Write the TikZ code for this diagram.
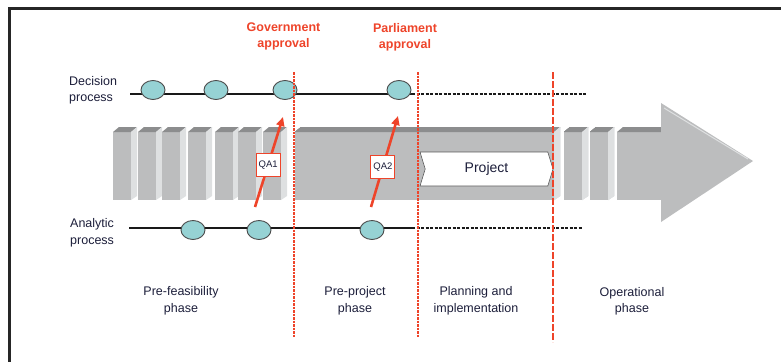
\documentclass[tikz,border=0pt]{standalone}
\usepackage{fontspec}
\setmainfont{Liberation Sans}
\usetikzlibrary{arrows.meta,positioning,shapes.geometric,shapes.symbols,calc}
\definecolor{qRed}{RGB}{238,68,42}
\definecolor{qTeal}{RGB}{150,210,212}
\definecolor{qText}{RGB}{28,30,58}
\definecolor{qFront}{RGB}{188,189,190}
\definecolor{qTop}{RGB}{140,141,142}
\definecolor{qSide}{RGB}{222,224,225}

% one grey slab of the big arrow: left and right edge of its front face
\newcommand{\gblock}[2]{%
	\fill[qFront] ({#1},132) rectangle ({#2},200);
	\fill[qTop] ({#1},132) -- ({#1+6},127) -- ({#2+6},127) -- ({#2},132) -- cycle;
	\fill[qSide] ({#2},132) -- ({#2+6},127) -- ({#2+6},196) -- ({#2},200) -- cycle;
}

\begin{document}
\begin{tikzpicture}[
	x=1pt, y=-1pt,
	lbl/.style={font=\fontsize{12.5}{16.5}\selectfont, text=qText, align=center, inner sep=0pt},
	side/.style={lbl, align=left, anchor=west},
	approval/.style={font=\bfseries\fontsize{12.5}{16}\selectfont, text=qRed, align=center, inner sep=0pt},
	milestone/.style={ellipse, draw=black!70, fill=qTeal, line width=0.9pt,
		minimum width=24pt, minimum height=19pt, inner sep=0pt},
	proc/.style={line width=2.4pt, black!90},
	procdot/.style={line width=2.2pt, black!90, dash pattern=on 3pt off 1.5pt},
	gate/.style={draw=qRed, line width=1.1pt, dash pattern=on 2.5pt off 1pt},
	gatedash/.style={draw=qRed, line width=1.1pt, dash pattern=on 7pt off 2pt},
	qaline/.style={qRed, line width=2.6pt, -{Triangle[length=9pt,width=8pt]}},
	qabox/.style={draw=qRed, fill=white, line width=1pt, minimum width=24pt,
		minimum height=23pt, inner sep=0pt, font=\fontsize{9.5}{10}\selectfont, text=qText},
	projbox/.style={signal, signal to=east, signal from=west, signal pointer angle=146,
		draw=black!65, fill=white, line width=0.6pt, minimum width=133pt, minimum height=34pt,
		font=\fontsize{14}{16}\selectfont, text=qText}
	]
	\useasboundingbox (0,0) rectangle (781,362);
	\draw[line width=3pt, black!85] (781,8) -- (9.5,8) -- (9.5,362);

	% big grey arrow
	\foreach \x in {113,138,162,188,215,238,263}
	\gblock{\x}{\x+18}
	\gblock{295}{554}
	\gblock{564}{582}
	\gblock{590}{608}
	\fill[qFront] (617,132) rectangle (662,200);
	\fill[qTop] (617,132) -- (623,127) -- (662,127) -- (662,132) -- cycle;
	\fill[qFront] (661,103) -- (753,161) -- (661,222) -- cycle;
	\draw[qSide, line width=1pt] (664,108) -- (748,159);

	% process lines
	\coordinate (dL) at (130,94);
	\coordinate (dS) at (412,94);
	\coordinate (dE) at (587,94);
	\coordinate (aL) at (129,228);
	\coordinate (aS) at (412,228);
	\coordinate (aE) at (583,228);
	\draw[proc] (dL) -- (dS);
	\draw[procdot] (dS) -- (dE);
	\draw[proc] (aL) -- (aS);
	\draw[procdot] (aS) -- (aE);

	\foreach \n/\x in {d1/153,d2/216,d3/285,d4/399}
	\node[milestone] (\n) at (\x,90) {};
	\foreach \n/\x in {a1/193,a2/259,a3/372}
	\node[milestone] (\n) at (\x,230) {};

	\node[side] (dec) at (69,90.5) {Decision\\process};
	\node[side] (ana) at (70,233) {Analytic\\process};

	\node[projbox] (project) at (486.5,169) {Project};

	% phase borders
	\foreach \g/\x in {g1/294,g2/418}{
		\coordinate (\g t) at (\x,72);
		\coordinate (\g b) at (\x,338);
		\draw[gate] (\g t) -- (\g b);
	}
	\coordinate (g3t) at (553,72);
	\coordinate (g3b) at (553,342);
	\draw[gatedash] (g3t) -- (g3b);

	% quality assurance
	\coordinate (qa1t) at (255,207);
	\coordinate (qa1h) at (283,117);
	\coordinate (qa2t) at (371,207);
	\coordinate (qa2h) at (398,116);
	\draw[qaline] (qa1t) -- (qa1h);
	\draw[qaline] (qa2t) -- (qa2h);
	\node[qabox] (qa1) at ($(qa1t)!0.47!(qa1h)$) {QA1};
	\node[qabox] (qa2) at ($(qa2t)!0.44!(qa2h)$) {QA2};

	\node[approval] (gov) at (283.5,36.5) {Government\\approval};
	\node[approval] (parl) at (405,37.5) {Parliament\\approval};

	\node[lbl] (ph1) at (181,301) {Pre-feasibility\\phase};
	\node[lbl] (ph2) at (355,301) {Pre-project\\phase};
	\node[lbl] (ph3) at (476,301) {Planning and\\implementation};
	\node[lbl] (ph4) at (632,301.5) {Operational\\phase};
\end{tikzpicture}
\end{document}
